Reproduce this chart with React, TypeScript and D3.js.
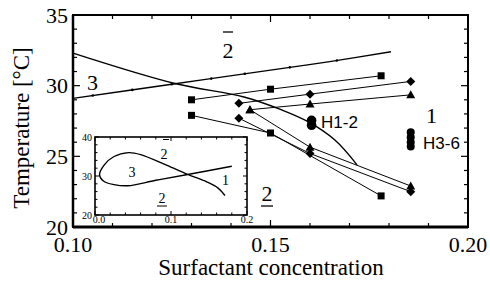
import * as d3 from 'd3'

// measured series (surfactant concentration, temperature °C)
const squareUpper: [number, number][] = [[0.130, 29.0], [0.150, 29.75], [0.178, 30.7]]
const squareLower: [number, number][] = [[0.130, 27.9], [0.150, 26.65], [0.178, 22.2]]
const diamondUpper: [number, number][] = [[0.142, 28.75], [0.160, 29.4], [0.1855, 30.3]]
const diamondLower: [number, number][] = [[0.142, 27.7], [0.160, 25.2], [0.1855, 22.5]]
const triangleUpper: [number, number][] = [[0.1448, 28.3], [0.160, 28.7], [0.1855, 29.35]]
const triangleLower: [number, number][] = [[0.1448, 28.3], [0.160, 25.65], [0.1855, 22.9]]
const circlesH12: [number, number][] = [[0.1604, 27.55], [0.1604, 27.2]]
const circlesH36: [number, number][] = [[0.1855, 26.7], [0.1855, 26.35], [0.1855, 26.0], [0.1855, 25.7]]

// phase boundaries
const boundaryRising: [number, number][] = [[0.100, 29.1], [0.125, 30.1], [0.150, 31.1], [0.165, 31.7], [0.1805, 32.4]]
const boundaryRisingDots = [0.105, 0.115, 0.125, 0.135, 0.1435, 0.1549, 0.1668]
const boundaryFalling: [number, number][] = [
  [0.100, 32.3], [0.1258, 30.15], [0.1433, 29.2], [0.1527, 28.3],
  [0.1595, 27.45], [0.1663, 26.15], [0.1719, 24.4],
]

// inset (phase diagram)
const insetUpper: [number, number][] = [
  [0.006, 30.3], [0.012, 32.8], [0.025, 35.0], [0.044, 36.0], [0.06, 35.5],
  [0.094, 32.8], [0.122, 30.4], [0.147, 28.5], [0.162, 26.9], [0.171, 25.0],
]
const insetLower: [number, number][] = [
  [0.006, 30.3], [0.012, 28.6], [0.025, 27.8], [0.043, 27.5], [0.08, 28.9],
  [0.122, 30.4], [0.18, 32.5],
]

const xTicks = [0.10, 0.15, 0.20]
const yTicks = [20, 25, 30, 35]
const insetXTicks = [0.0, 0.1, 0.2]
const insetYTicks = [20, 30, 40]

const W = 490
const H = 288
const serif = '"Liberation Serif", "Times New Roman", serif'
const sans = '"Liberation Sans", Arial, sans-serif'

export default function App() {
  const x = d3.scaleLinear().domain([0.10, 0.20]).range([73, 468])
  const y = d3.scaleLinear().domain([20, 35]).range([227, 15])
  const xi = d3.scaleLinear().domain([0, 0.2]).range([95, 247])
  const yi = d3.scaleLinear().domain([20, 40]).range([215, 137])

  const straight = d3.line<[number, number]>().x(d => x(d[0])).y(d => y(d[1]))
  const smooth = d3.line<[number, number]>().x(d => x(d[0])).y(d => y(d[1])).curve(d3.curveCatmullRom)
  const insetLine = d3.line<[number, number]>().x(d => xi(d[0])).y(d => yi(d[1])).curve(d3.curveCatmullRom)
  const loop = [...insetUpper.slice().reverse(), ...insetLower.slice(1)]

  const [x0, x1] = x.range()
  const [y0, y1] = y.range()
  const xMinor = d3.range(0.10, 0.2001, 0.01)
  const yMinor = d3.range(20, 35.01, 1)

  const [ix0, ix1] = xi.range()
  const [iy0, iy1] = yi.range()
  const ixMinor = d3.range(0, 0.2001, 0.02)
  const iyMinor = d3.range(20, 40.01, 2)

  const risingAt = d3.scaleLinear().domain(boundaryRising.map(d => d[0])).range(boundaryRising.map(d => d[1]))

  const sq = (p: [number, number], i: number) => (
    <rect key={i} x={x(p[0]) - 3.5} y={y(p[1]) - 3.5} width={7} height={7} fill="#000" />
  )
  const dia = (p: [number, number], i: number) => {
    const cx = x(p[0]), cy = y(p[1]), r = 4.5
    return <path key={i} d={`M${cx},${cy - r}L${cx + r},${cy}L${cx},${cy + r}L${cx - r},${cy}Z`} fill="#000" />
  }
  const tri = (p: [number, number], i: number) => {
    const cx = x(p[0]), cy = y(p[1])
    return <path key={i} d={`M${cx},${cy - 4.5}L${cx + 4.5},${cy + 3.5}L${cx - 4.5},${cy + 3.5}Z`} fill="#000" />
  }

  return (
    <svg width={W} height={H} style={{ position: 'absolute', left: 0, top: 0, background: '#fff' }}>
      {/* main ticks */}
      {xMinor.map((v, i) => {
        const l = i % 5 === 0 ? 7 : 4
        return (
          <g key={'xt' + i} stroke="#000" strokeWidth={1.2}>
            <line x1={x(v)} x2={x(v)} y1={y0} y2={y0 - l} />
            <line x1={x(v)} x2={x(v)} y1={y1} y2={y1 + l} />
          </g>
        )
      })}
      {yMinor.map((v, i) => {
        const l = i % 5 === 0 ? 7 : 4
        return (
          <g key={'yt' + i} stroke="#000" strokeWidth={1.2}>
            <line x1={x0} x2={x0 + l} y1={y(v)} y2={y(v)} />
            <line x1={x1} x2={x1 - l} y1={y(v)} y2={y(v)} />
          </g>
        )
      })}
      <rect x={x0} y={y1} width={x1 - x0} height={y0 - y1} fill="none" stroke="#000" strokeWidth={2} />
      <line x1={x0} x2={x1} y1={y0} y2={y0} stroke="#000" strokeWidth={3} />
      <line x1={x0} x2={x0} y1={y1} y2={y0} stroke="#000" strokeWidth={2.5} />

      {xTicks.map(v => (
        <text key={'xl' + v} x={x(v)} y={252} textAnchor="middle" fontFamily={serif} fontSize={22}>{v.toFixed(2)}</text>
      ))}
      {yTicks.map(v => (
        <text key={'yl' + v} x={68} y={y(v) + 7.5} textAnchor="end" fontFamily={serif} fontSize={22}>{v}</text>
      ))}
      <text x={271} y={275} textAnchor="middle" fontFamily={serif} fontSize={23}>Surfactant concentration</text>
      <text transform={`translate(29,128) rotate(-90)`} textAnchor="middle" fontFamily={serif} fontSize={23}>Temperature [°C]</text>

      {/* boundaries */}
      <path d={smooth(boundaryRising) ?? ''} fill="none" stroke="#000" strokeWidth={1.4} />
      {boundaryRisingDots.map((v, i) => (
        <circle key={'bd' + i} cx={x(v)} cy={y(risingAt(v))} r={1.3} fill="#000" />
      ))}
      <path d={smooth(boundaryFalling) ?? ''} fill="none" stroke="#000" strokeWidth={1.4} />

      {/* data lines */}
      {[squareUpper, squareLower, diamondUpper, diamondLower, triangleUpper, triangleLower].map((s, i) => (
        <path key={'dl' + i} d={straight(s) ?? ''} fill="none" stroke="#000" strokeWidth={1} />
      ))}
      {squareUpper.map(sq)}
      {squareLower.map(sq)}
      {diamondUpper.map(dia)}
      {diamondLower.map(dia)}
      {triangleUpper.map(tri)}
      {triangleLower.map(tri)}
      {circlesH12.map((p, i) => <circle key={'h12' + i} cx={x(p[0])} cy={y(p[1])} r={4.8} fill="#000" />)}
      {circlesH36.map((p, i) => <circle key={'h36' + i} cx={x(p[0])} cy={y(p[1])} r={4} fill="#000" />)}
      <text x={321} y={128} fontFamily={sans} fontSize={17}>H1-2</text>
      <text x={423} y={149} fontFamily={sans} fontSize={17}>H3-6</text>

      {/* region labels */}
      <text x={92.5} y={90} textAnchor="middle" fontFamily={serif} fontSize={22}>3</text>
      <text x={228} y={58} textAnchor="middle" fontFamily={serif} fontSize={22}>2</text>
      <line x1={223} x2={233} y1={32} y2={32} stroke="#000" strokeWidth={1.3} />
      <text x={431.5} y={123} textAnchor="middle" fontFamily={serif} fontSize={22}>1</text>
      <text x={267} y={201} textAnchor="middle" fontFamily={serif} fontSize={22}>2</text>
      <line x1={261} x2={273} y1={206} y2={206} stroke="#000" strokeWidth={1.3} />

      {/* inset */}
      <rect x={ix0} y={iy1} width={ix1 - ix0} height={iy0 - iy1} fill="#fff" stroke="#000" strokeWidth={1.6} />
      {ixMinor.map((v, i) => {
        const l = i % 5 === 0 ? 4 : 2.5
        return (
          <g key={'ixt' + i} stroke="#000" strokeWidth={1}>
            <line x1={xi(v)} x2={xi(v)} y1={iy0} y2={iy0 - l} />
            <line x1={xi(v)} x2={xi(v)} y1={iy1} y2={iy1 + l} />
          </g>
        )
      })}
      {iyMinor.map((v, i) => {
        const l = i % 5 === 0 ? 4 : 2.5
        return (
          <g key={'iyt' + i} stroke="#000" strokeWidth={1}>
            <line x1={ix0} x2={ix0 + l} y1={yi(v)} y2={yi(v)} />
            <line x1={ix1} x2={ix1 - l} y1={yi(v)} y2={yi(v)} />
          </g>
        )
      })}
      {insetXTicks.map(v => (
        <text key={'ixl' + v} x={xi(v) + (v === 0 ? 4 : 0)} y={223} textAnchor="middle" fontFamily={serif} fontSize={10}>{v.toFixed(1)}</text>
      ))}
      {insetYTicks.map(v => (
        <text key={'iyl' + v} x={92} y={yi(v) + 3.5} textAnchor="end" fontFamily={serif} fontSize={10}>{v}</text>
      ))}
      <path d={insetLine(loop) ?? ''} fill="none" stroke="#000" strokeWidth={1.4} />
      <text x={132} y={177} textAnchor="middle" fontFamily={serif} fontSize={14}>3</text>
      <text x={164} y={159} textAnchor="middle" fontFamily={serif} fontSize={14}>2</text>
      <line x1={163} x2={169} y1={139.5} y2={139.5} stroke="#000" strokeWidth={1} />
      <text x={225.5} y={185} textAnchor="middle" fontFamily={serif} fontSize={14}>1</text>
      <text x={162} y={203} textAnchor="middle" fontFamily={serif} fontSize={14}>2</text>
      <line x1={157} x2={167} y1={206} y2={206} stroke="#000" strokeWidth={1} />
    </svg>
  )
}
